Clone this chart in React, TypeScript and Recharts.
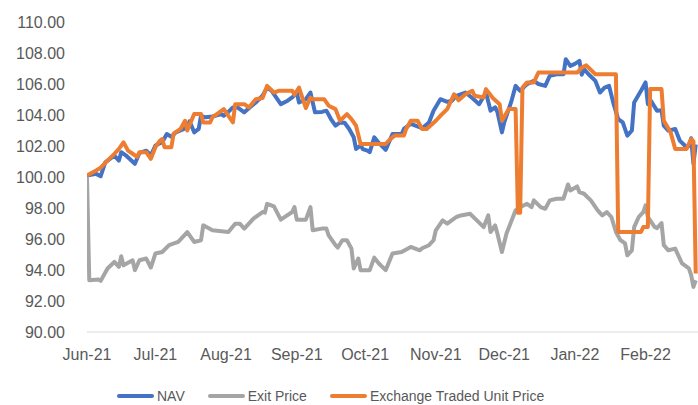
import React from 'react';
import { LineChart, Line, XAxis, YAxis } from 'recharts';

// x values are days since 1 Jun 2021
const monthTicks = [0, 30, 61, 92, 122, 153, 183, 214, 245];
const monthLabels = ['Jun-21', 'Jul-21', 'Aug-21', 'Sep-21', 'Oct-21', 'Nov-21', 'Dec-21', 'Jan-22', 'Feb-22'];
const valueTicks = [90, 92, 94, 96, 98, 100, 102, 104, 106, 108, 110];

const navPoints: [number, number][] = [
  [0, 100.1], [4, 100.2], [6, 100.05], [8, 100.95], [12, 101.38], [14, 101.06], [15, 101.6], [17, 101.4],
  [21, 100.85], [23, 101.55], [26, 101.7], [28, 101.4], [30, 102.03], [33, 102.24], [35, 102.77], [37, 102.6],
  [39, 102.88], [41, 103.0], [44, 103.2], [45, 103.6], [47, 102.88], [49, 103.1], [50, 103.95], [52, 103.85],
  [55, 103.9], [59, 104.06], [60, 103.95], [62, 104.2], [64, 104.49], [66, 104.49], [69, 104.17], [74, 104.81],
  [77, 105.24], [79, 105.77], [81, 105.56], [85, 104.7], [88, 104.92], [90, 105.13], [92, 105.45], [93, 104.81],
  [96, 105.02], [98, 105.45], [100, 104.17], [103, 104.2], [105, 104.28], [107, 103.74], [109, 103.31],
  [111, 103.52], [113, 103.5], [115, 103.1], [117, 102.56], [118, 101.81], [120, 102.03], [121, 101.8],
  [123, 101.7], [124, 101.6], [126, 102.56], [128, 102.2], [131, 101.75], [134, 102.77], [138, 102.77],
  [139, 103.1], [142, 103.42], [147, 103.15], [150, 103.52], [152, 104.28], [155, 105.02], [158, 104.85],
  [160, 104.9], [162, 105.24], [166, 105.45], [169, 105.1], [172, 104.7], [175, 105.45], [177, 104.28],
  [179, 104.5], [180, 104.2], [182, 102.88], [183, 103.52], [186, 104.81], [188, 105.88], [190, 105.56],
  [193, 105.99], [196, 106.2], [198, 106.0], [201, 105.88], [203, 106.53], [206, 106.63], [209, 106.63],
  [210, 107.6], [212, 107.17], [214, 107.3], [216, 107.49], [217, 106.6], [218, 106.96], [220, 106.63],
  [223, 106.2], [225, 105.45], [227, 105.77], [229, 105.88], [231, 104.7], [233, 103.74], [235, 103.52],
  [237, 102.67], [239, 103.0], [240, 104.81], [243, 105.56], [245, 106.1], [246, 104.7], [247, 105.0],
  [250, 104.28], [252, 104.3], [253, 103.31], [255, 102.99], [258, 103.1], [260, 102.35], [263, 101.92],
  [264, 102.0], [265, 102.5], [266, 100.85], [267, 102.1],
];

const exitPoints: [number, number][] = [
  [0, 100.0], [1, 93.34], [5, 93.39], [6, 93.3], [9, 94.1], [12, 94.52], [14, 94.2], [15, 94.89], [16, 94.3],
  [20, 94.63], [21, 93.99], [23, 94.63], [26, 94.74], [28, 94.16], [30, 95.06], [33, 95.16], [36, 95.6],
  [40, 95.81], [44, 96.45], [47, 95.81], [50, 95.92], [51, 96.88], [55, 96.56], [62, 96.45], [65, 96.99],
  [67, 96.99], [69, 96.67], [73, 97.31], [77, 97.74], [78, 97.7], [79, 98.27], [82, 98.1], [85, 97.25],
  [90, 97.74], [91, 98.06], [92, 97.25], [96, 97.25], [98, 98.06], [99, 96.56], [103, 96.67], [105, 96.67],
  [106, 96.24], [109, 95.6], [110, 95.45], [112, 95.92], [114, 95.92], [116, 95.38], [117, 94.1], [119, 94.74],
  [120, 93.99], [124, 93.99], [126, 94.8], [128, 94.42], [131, 93.99], [134, 95.06], [138, 95.16], [142, 95.49],
  [146, 95.27], [147, 95.4], [150, 95.6], [152, 95.92], [153, 96.56], [156, 97.2], [158, 96.99], [161, 97.31],
  [162, 97.42], [164, 97.52], [168, 97.63], [171, 97.2], [174, 96.77], [176, 97.52], [177, 96.45], [179, 96.88],
  [180, 96.35], [182, 95.16], [184, 96.35], [188, 97.85], [190, 98.06], [193, 98.27], [195, 98.06], [196, 98.49],
  [199, 98.06], [201, 97.95], [203, 98.49], [206, 98.6], [209, 98.6], [211, 99.52], [212, 99.13], [215, 99.39],
  [216, 99.02], [218, 98.92], [221, 98.49], [224, 97.85], [226, 97.52], [228, 97.74], [230, 97.42], [232, 96.45],
  [234, 95.92], [236, 95.71], [237, 94.95], [239, 95.27], [240, 96.77], [242, 97.42], [244, 97.74], [245, 98.17],
  [246, 97.42], [249, 96.77], [250, 96.7], [252, 97.03], [253, 95.6], [255, 95.27], [258, 95.38], [259, 95.06],
  [261, 94.42], [264, 94.1], [265, 93.67], [266, 92.91], [267, 93.34],
];

const unitPricePoints: [number, number][] = [
  [0, 100.1], [4, 100.42], [6, 100.6], [9, 101.06], [12, 101.49], [14, 101.81], [16, 102.24], [18, 101.7],
  [20, 101.5], [22, 101.3], [23, 101.6], [26, 101.6], [28, 101.17], [30, 101.92], [32, 102.35], [33, 102.45],
  [34, 101.92], [37, 101.92], [38, 102.8], [41, 103.1], [43, 103.63], [44, 103.0], [47, 104.06], [50, 104.06],
  [51, 103.52], [54, 103.52], [55, 103.85], [60, 104.38], [64, 103.52], [65, 104.7], [69, 104.7], [71, 104.49],
  [74, 105.02], [77, 105.1], [79, 105.88], [82, 105.45], [84, 105.56], [90, 105.56], [91, 105.3], [93, 105.77],
  [96, 104.45], [98, 105.13], [99, 105.02], [104, 105.02], [106, 104.6], [109, 104.38], [111, 103.63],
  [114, 104.06], [116, 103.74], [118, 103.31], [120, 102.13], [131, 102.13], [133, 102.45], [135, 102.67],
  [139, 102.67], [140, 103.1], [142, 103.63], [145, 103.63], [147, 103.1], [149, 103.1], [153, 103.63],
  [155, 103.95], [158, 104.38], [161, 105.34], [163, 104.95], [166, 105.34], [169, 105.56], [170, 105.24],
  [174, 105.13], [175, 105.67], [178, 105.1], [181, 104.7], [182, 103.63], [185, 104.38], [188, 104.38],
  [189, 97.7], [190, 97.7], [191, 105.77], [193, 106.1], [196, 106.1], [198, 106.74], [215, 106.74],
  [217, 107.06], [219, 107.2], [223, 106.63], [232, 106.63], [233, 96.45], [243, 96.45], [244, 96.77],
  [246, 96.77], [247, 105.67], [252, 105.67], [253, 103.63], [256, 102.88], [258, 101.81], [263, 101.81],
  [265, 102.45], [266, 102.3], [267, 93.77],
];

const toRows = (pts: [number, number][]) => pts.map(([day, value]) => ({ day, value }));

const FONT = '"Liberation Sans", Arial, sans-serif';
const TEXT = '#595959';

const series = [
  { name: 'NAV', color: '#4472C4', points: navPoints },
  { name: 'Exit Price', color: '#A5A5A5', points: exitPoints },
  { name: 'Exchange Traded Unit Price', color: '#ED7D31', points: unitPricePoints },
];

if (typeof document !== 'undefined') {
  document.body.style.margin = '0';
  document.documentElement.style.overflow = 'hidden';
  document.body.style.overflow = 'hidden';
}

export default function App() {
  return (
    <div style={{ position: 'relative', width: 698, height: 405, overflow: 'hidden', background: '#fff', fontFamily: FONT }}>
      <LineChart width={698} height={405} margin={{ top: 22, right: 0, left: 0, bottom: 43 }}>
        <XAxis
          type="number"
          dataKey="day"
          domain={[0, 268]}
          ticks={monthTicks}
          tickFormatter={(d) => monthLabels[monthTicks.indexOf(d)] ?? ''}
          interval={0}
          allowDataOverflow
          height={30}
          tickLine={false}
          tickSize={0}
          tickMargin={17}
          axisLine={{ stroke: '#D9D9D9', strokeWidth: 1 }}
          tick={{ fill: TEXT, fontSize: 16, fontFamily: FONT }}
        />
        <YAxis
          type="number"
          domain={[90, 110]}
          ticks={valueTicks}
          interval={0}
          width={87}
          axisLine={false}
          tickLine={false}
          tickSize={0}
          tickMargin={22}
          tickFormatter={(v) => Number(v).toFixed(2)}
          tick={{ fill: TEXT, fontSize: 16, fontFamily: FONT }}
        />
        {series.map((s) => (
          <Line
            key={s.name}
            data={toRows(s.points)}
            dataKey="value"
            name={s.name}
            type="linear"
            stroke={s.color}
            strokeWidth={4}
            strokeLinejoin="round"
            dot={false}
            isAnimationActive={false}
          />
        ))}
      </LineChart>
      <div style={{ position: 'absolute', left: 117, top: 387, height: 18, display: 'flex', alignItems: 'center', fontSize: 14, color: TEXT }}>
        {series.map((s) => (
          <div key={s.name} style={{ display: 'flex', alignItems: 'center', marginRight: 23 }}>
            <span style={{ display: 'inline-block', width: 37, height: 4, borderRadius: 2, background: s.color, marginRight: 3 }} />
            <span>{s.name}</span>
          </div>
        ))}
      </div>
    </div>
  );
}
